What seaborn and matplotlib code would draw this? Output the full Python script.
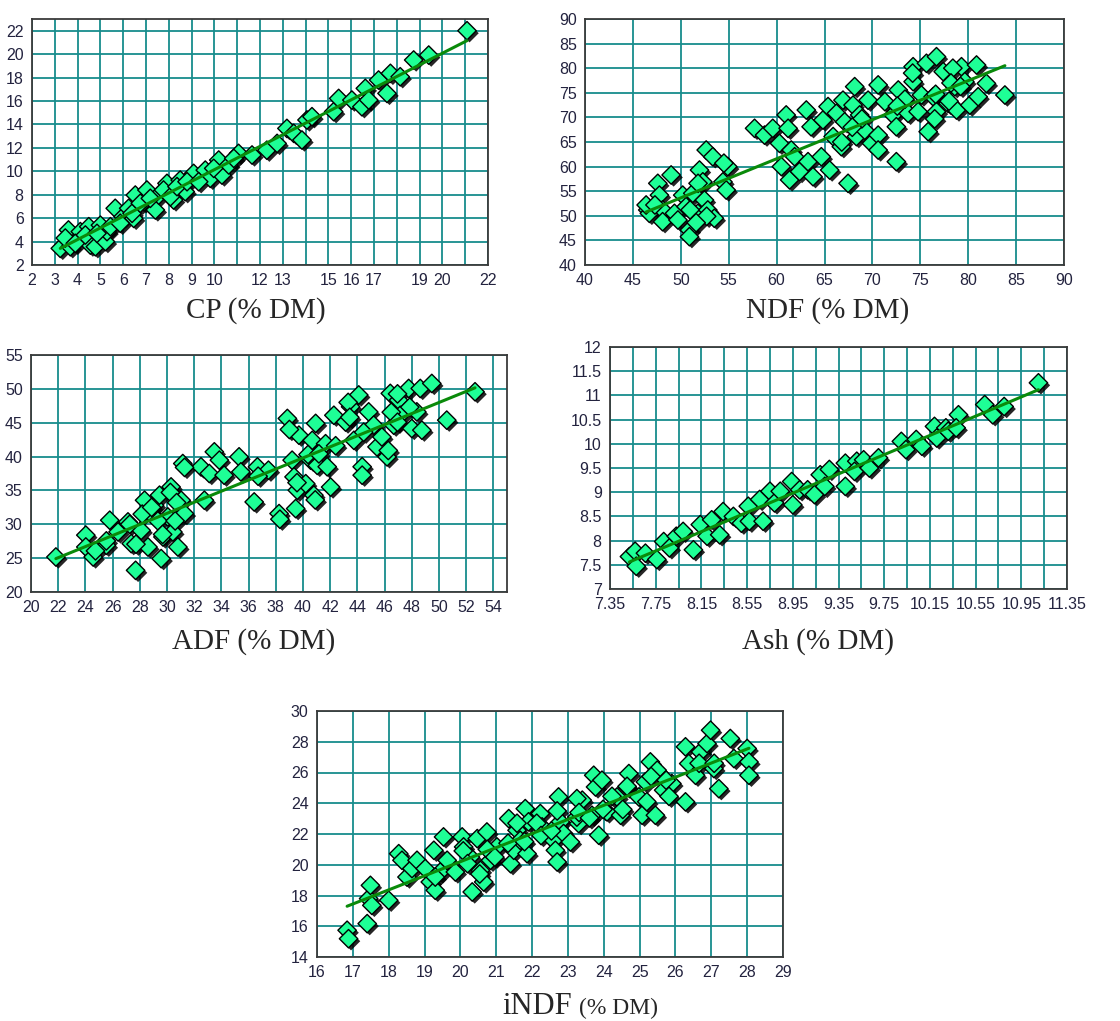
import matplotlib
matplotlib.use("Agg")
import pandas as pd
import matplotlib.pyplot as plt
import matplotlib.patheffects as pe
from matplotlib.ticker import FixedLocator
import seaborn as sns

cp_x = [3.24, 3.6, 3.68, 3.46, 4.12, 4.49, 4.56, 4.78, 5.0, 5.22, 5.29, 5.65, 6.0, 6.24,
        6.46, 6.53, 6.9, 7.04, 7.41, 7.56, 7.92, 8.21, 8.5, 8.72, 9.09, 9.6, 9.82, 10.19,
        10.33, 10.63, 11.06, 11.65, 12.3, 12.75, 13.18, 13.48, 13.84, 14.06, 14.28, 15.23,
        15.45, 16.03, 16.47, 16.62, 16.77, 17.2, 17.57, 17.72, 18.15, 18.74, 19.4, 21.08,
        3.9, 4.34, 4.85, 5.44, 5.87, 6.39, 6.75, 7.19, 7.77, 8.07, 8.36, 8.8, 9.31, 9.97, 10.85]
cp_y = [3.42, 4.99, 3.56, 4.3, 4.85, 5.27, 3.7, 3.56, 5.4, 4.0, 4.85, 6.84, 6.13, 6.84,
        5.98, 7.97, 7.4, 8.4, 6.7, 7.97, 8.97, 7.55, 9.25, 8.26, 9.82, 10.1, 9.4, 10.96,
        9.68, 10.54, 11.53, 11.39, 11.8, 12.38, 13.66, 13.24, 12.67, 14.38, 14.66, 15.09,
        16.22, 16.08, 15.51, 17.08, 16.08, 17.79, 16.65, 18.36, 18.07, 19.5, 19.92, 22.0,
        3.85, 4.56, 4.7, 5.27, 5.56, 6.41, 7.27, 7.69, 8.4, 7.83, 8.69, 9.11, 9.11, 10.25, 11.1]

ndf_x = [46.55, 46.72, 46.38, 47.6, 47.77, 48.1, 48.1, 48.99, 49.34, 49.7, 50.2, 50.55, 50.9,
         50.9, 51.25, 51.78, 51.95, 52.3, 52.47, 52.65, 52.82, 53.34, 53.5, 54.4, 54.9, 54.74,
         57.7, 58.74, 59.6, 60.3, 60.5, 61.0, 61.2, 61.36, 61.53, 61.88, 62.4, 63.1, 63.28,
         63.6, 63.8, 64.67, 64.84, 65.37, 65.54, 65.9, 66.24, 66.76, 66.93, 67.1, 67.46,
         67.98, 68.15, 68.33, 68.67, 69.2, 69.55, 69.9, 70.6, 70.6, 70.6, 71.3, 72.16, 72.5,
         72.5, 72.7, 73.73, 74.25, 74.25, 74.77, 75.12, 75.64, 75.82, 76.34, 76.69, 76.69,
         77.39, 77.9, 78.6, 78.78, 79.3, 79.65, 80.17, 80.87, 81.04, 81.9, 83.83,
         74.2, 78.4, 78.0, 76.6, 76.5, 73.4, 72.6, 68.9, 67.9, 66.8, 78.2, 79.2,
         50.97, 52.7, 54.5, 51.8, 51.6, 47.3]
ndf_y = [51.18, 50.5, 52.2, 56.6, 54.2, 51.2, 48.8, 58.3, 50.5, 49.15, 54.2, 51.86, 47.1,
         45.76, 54.57, 50.5, 59.3, 56.9, 53.2, 63.37, 51.18, 62.0, 49.5, 56.9, 60.0, 55.24,
         67.78, 66.4, 67.78, 64.73, 60.0, 70.5, 67.78, 57.3, 63.37, 62.0, 59.0, 71.5, 61.0,
         68.1, 57.95, 62.0, 69.47, 72.2, 59.3, 66.1, 70.83, 64.05, 73.5, 69.1, 56.6,
         72.5, 76.25, 66.1, 70.5, 67.4, 73.5, 64.73, 66.4, 76.6, 63.37, 73.2, 70.5, 61.0,
         68.1, 75.57, 70.83, 80.3, 77.26, 71.17, 74.55, 81.0, 67.1, 74.2, 71.17, 82.34,
         79.3, 72.86, 76.25, 71.5, 80.3, 77.26, 72.5, 80.65, 74.2, 76.9, 74.55,
         79.0, 80.0, 73.3, 74.7, 69.7, 73.7, 72.3, 69.7, 68.0, 65.0, 77.0, 76.3,
         51.2, 49.9, 60.7, 56.6, 48.6, 52.2]

adf_x = [21.83, 24.03, 24.03, 24.57, 25.54, 25.79, 26.4, 27.13, 27.37, 27.69, 28.1, 28.35,
         28.6, 28.84, 29.08, 29.45, 29.57, 29.7, 30.06, 30.3, 30.43, 30.8, 31.04, 31.16, 31.28,
         32.5, 32.75, 33.11, 33.48, 33.85, 34.2, 35.3, 35.43, 36.41, 36.65, 37.46, 38.24,
         38.85, 39.2, 39.34, 39.46, 39.58, 39.7, 40.2, 40.56, 40.68, 40.8, 40.93, 41.05,
         41.66, 41.78, 42.03, 42.27, 43.13, 43.5, 43.74, 44.1, 44.35, 44.35, 44.83, 45.2,
         45.44, 45.8, 46.18, 46.42, 46.67, 47.03, 47.15, 47.77, 48.0, 48.37, 48.62, 48.74,
         49.47, 50.57, 52.65,
         24.74, 25.54, 27.26, 27.72, 28.18, 28.87, 29.33, 29.68, 30.25, 30.71, 30.6, 31.29,
         36.7, 38.3, 39.56, 40.37, 39.0, 40.9, 41.17, 42.4, 43.32, 43.44, 44.46, 46.27,
         46.49, 46.95, 46.95, 47.85]
adf_y = [25.17, 28.4, 26.65, 25.17, 26.9, 30.6, 28.87, 30.35, 27.15, 23.2, 29.1, 33.55,
         26.65, 31.58, 32.8, 34.3, 24.93, 28.13, 31.09, 35.52, 28.87, 26.65, 33.55, 38.97, 31.58,
         38.48, 33.55, 37.5, 40.7, 39.47, 37.25, 39.96, 37.74, 33.3, 38.48, 37.99, 31.58,
         45.63, 39.47, 37.0, 32.32, 35.03, 43.16, 36.0, 39.47, 42.4, 34.3, 44.9, 38.7,
         41.9, 38.5, 35.5, 46.1, 45.1, 47.35, 42.4, 49.1, 38.5, 37.25, 46.6, 44.64,
         41.43, 42.9, 39.96, 49.33, 44.64, 48.34, 46.1, 50.06, 44.15, 46.6, 50.06, 43.9,
         50.8, 45.38, 49.57,
         26.08, 27.55, 30.0, 27.06, 31.5, 32.5, 30.5, 28.5, 34.7, 33.2, 30.5, 38.4,
         37.1, 30.75, 36.15, 40.3, 44.0, 33.6, 40.4, 41.6, 48.0, 45.8, 43.6, 40.9,
         46.55, 45.07, 49.26, 47.3]

ash_x = [7.52, 7.57, 7.58, 7.66, 7.76, 7.82, 7.87, 7.93, 7.99, 8.08, 8.14, 8.2, 8.24, 8.31,
         8.34, 8.43, 8.5, 8.56, 8.57, 8.66, 8.69, 8.75, 8.79, 8.84, 8.94, 8.95, 9.01, 9.08,
         9.14, 9.19, 9.23, 9.27, 9.41, 9.41, 9.51, 9.49, 9.57, 9.62, 9.7, 9.9, 9.94, 10.03,
         10.08, 10.19, 10.21, 10.29, 10.31, 10.4, 10.38, 10.63, 10.7, 10.8, 11.1]
ash_y = [7.67, 7.78, 7.47, 7.74, 7.61, 7.98, 7.85, 8.09, 8.19, 7.81, 8.33, 8.09, 8.43, 8.12,
         8.6, 8.5, 8.36, 8.71, 8.4, 8.85, 8.4, 9.02, 8.78, 9.02, 9.22, 8.74, 9.05, 9.05,
         8.95, 9.36, 9.12, 9.47, 9.6, 9.12, 9.64, 9.43, 9.67, 9.5, 9.71, 10.05, 9.88, 10.09,
         9.95, 10.36, 10.12, 10.33, 10.26, 10.6, 10.33, 10.81, 10.6, 10.77, 11.26]

indf_x = [16.84, 16.88, 17.4, 17.44, 17.49, 17.53, 18.0, 18.28, 18.37, 18.51, 18.65, 18.79,
          19.02, 19.16, 19.26, 19.3, 19.44, 19.53, 19.63, 19.86, 20.05, 20.09, 20.28, 20.33,
          20.47, 20.56, 20.65, 20.74, 20.84, 21.02, 21.35, 21.4, 21.49, 21.58, 21.67, 21.81,
          21.86, 21.9, 22.23, 22.28, 22.6, 22.65, 22.7, 22.74, 22.79, 22.88, 23.07, 23.3,
          23.4, 23.67, 23.72, 23.77, 23.86, 23.95, 24.09, 24.37, 24.47, 24.65, 24.7, 24.98,
          25.07, 25.16, 25.3, 25.44, 25.49, 25.67, 25.9, 26.28, 26.28, 26.37, 26.56, 26.7,
          26.88, 26.98, 27.07, 27.21, 27.53, 27.63, 28.0, 28.05, 28.05,
          19.3, 20.08, 20.2, 20.54, 20.75, 20.96, 21.33, 21.58, 21.79, 22.13, 22.25, 22.54,
          22.7, 23.25, 23.25, 23.31, 23.6, 23.98, 24.23, 24.53, 24.65, 25.2, 25.32, 25.74,
          25.82, 26.66, 27.08]
indf_y = [15.74, 15.19, 16.17, 17.8, 18.66, 17.36, 17.69, 20.72, 20.29, 19.2, 19.75, 20.29,
          19.75, 18.88, 20.94, 18.34, 19.53, 21.81, 20.29, 19.53, 21.81, 21.16, 20.5, 18.23,
          21.7, 19.64, 18.88, 22.13, 20.29, 21.16, 23.0, 20.07, 20.94, 22.24, 21.59, 23.65,
          20.72, 22.79, 23.33, 22.46, 21.59, 20.94, 20.18, 24.41, 22.79, 22.03, 21.48, 22.68,
          24.2, 23.22, 25.82, 25.06, 21.92, 25.5, 23.44, 24.41, 23.22, 25.06, 25.93, 24.41,
          23.22, 25.39, 26.69, 23.22, 26.15, 24.85, 25.28, 24.09, 27.67, 26.58, 25.82, 27.34,
          27.88, 28.75, 26.26, 24.95, 28.21, 26.91, 27.56, 26.69, 25.82,
          19.2, 20.9, 20.07, 19.4, 21.0, 20.5, 21.4, 22.7, 21.5, 22.7, 21.9, 22.2,
          23.5, 24.3, 23.1, 23.4, 23.05, 23.6, 24.45, 23.6, 25.1, 24.1, 25.74, 25.5,
          24.45, 26.6, 26.6]

cp_skip = [11, 14, 18, 21]

FIG_W, FIG_H = 1120, 1021
MARKER_FACE = "#1eff96"
GRID_COLOR = "#178c8c"
LINE_COLOR = "#0a8a0a"
TICK_COLOR = "#23233f"
SERIF = ["Liberation Serif", "DejaVu Serif"]


def px_axes(fig, left, top, right, bottom):
    """Add axes given in pixel box coordinates (origin at top-left)."""
    return fig.add_axes([left / FIG_W, 1 - bottom / FIG_H,
                         (right - left) / FIG_W, (bottom - top) / FIG_H])


def draw_panel(ax, x, y, xlim, ylim, xticks, yticks, xlabels=None, xminor=None):
    df = pd.DataFrame({"x": x, "y": y})
    ax.set_axisbelow(True)
    sns.scatterplot(data=df, x="x", y="y", ax=ax, marker="D", s=88,
                    color=MARKER_FACE, edgecolor="black", linewidth=1.0, zorder=3,
                    path_effects=[pe.SimplePatchShadow(offset=(1.8, -1.8),
                                                       shadow_rgbFace="black", alpha=0.85),
                                  pe.Normal()])
    sns.regplot(data=df, x="x", y="y", ax=ax, scatter=False, ci=None,
                line_kws=dict(color=LINE_COLOR, lw=2.2, zorder=4))

    ax.set_xlim(*xlim)
    ax.set_ylim(*ylim)
    ax.set_xticks(xticks)
    if xlabels is None:
        xlabels = [f"{v:g}" for v in xticks]
    ax.set_xticklabels(xlabels)
    ax.set_yticks(yticks)
    ax.set_yticklabels([f"{v:g}" for v in yticks])
    if xminor is not None:
        ax.xaxis.set_minor_locator(FixedLocator(xminor))
    ax.grid(True, which="both", color=GRID_COLOR, lw=1.3)
    ax.tick_params(which="both", direction="out", length=4, width=1, color="#333333",
                   labelsize=11.5, labelcolor=TICK_COLOR, pad=2)
    ax.tick_params(which="minor", length=0)
    for sp in ax.spines.values():
        sp.set_color("#3a3a3a")
        sp.set_linewidth(1.3)
    ax.set_xlabel("")
    ax.set_ylabel("")


def main():
    sns.set_style("white")
    plt.rcParams["font.family"] = ["Liberation Sans", "DejaVu Sans"]

    fig = plt.figure(figsize=(FIG_W / 100, FIG_H / 100), dpi=100)

    # CP
    ax = px_axes(fig, 32, 19, 488, 265)
    cp_ticks = list(range(2, 23))
    draw_panel(ax, cp_x, cp_y, (2, 22), (2, 23), cp_ticks, list(range(2, 23, 2)),
               xlabels=["" if v in cp_skip else str(v) for v in cp_ticks])
    fig.text(256 / FIG_W, 1 - 311 / FIG_H, "CP (% DM)", ha="center", va="center",
             fontsize=21, family=SERIF)

    # NDF
    ax = px_axes(fig, 585, 19, 1064, 265)
    draw_panel(ax, ndf_x, ndf_y, (40, 90), (40, 90), list(range(40, 91, 5)),
               list(range(40, 91, 5)))
    fig.text(828 / FIG_W, 1 - 311 / FIG_H, "NDF (% DM)", ha="center", va="center",
             fontsize=21, family=SERIF)

    # ADF
    ax = px_axes(fig, 31, 355, 507, 592)
    draw_panel(ax, adf_x, adf_y, (20, 55), (20, 55), list(range(20, 55, 2)),
               list(range(20, 56, 5)))
    fig.text(254 / FIG_W, 1 - 642 / FIG_H, "ADF (% DM)", ha="center", va="center",
             fontsize=21, family=SERIF)

    # Ash
    ax = px_axes(fig, 610, 347, 1067, 589)
    ash_ticks = [7.35, 7.75, 8.15, 8.55, 8.95, 9.35, 9.75, 10.15, 10.55, 10.95, 11.35]
    draw_panel(ax, ash_x, ash_y, (7.35, 11.35), (7, 12), ash_ticks,
               [7, 7.5, 8, 8.5, 9, 9.5, 10, 10.5, 11, 11.5, 12],
               xlabels=[f"{v:.2f}" for v in ash_ticks],
               xminor=[v + 0.2 for v in ash_ticks[:-1]])
    fig.text(818 / FIG_W, 1 - 642 / FIG_H, "Ash (% DM)", ha="center", va="center",
             fontsize=21, family=SERIF)

    # iNDF
    ax = px_axes(fig, 317, 711, 783, 957)
    draw_panel(ax, indf_x, indf_y, (16, 29), (14, 30), list(range(16, 30)),
               list(range(14, 31, 2)))
    fig.text(572 / FIG_W, 1 - 1006 / FIG_H, "iNDF", ha="right", va="center",
             fontsize=22, family=SERIF)
    fig.text(579 / FIG_W, 1 - 1008 / FIG_H, "(% DM)", ha="left", va="center",
             fontsize=17, family=SERIF)

    fig.savefig("out.png", dpi=100, facecolor="white")
    plt.close(fig)


if __name__ == "__main__":
    main()
